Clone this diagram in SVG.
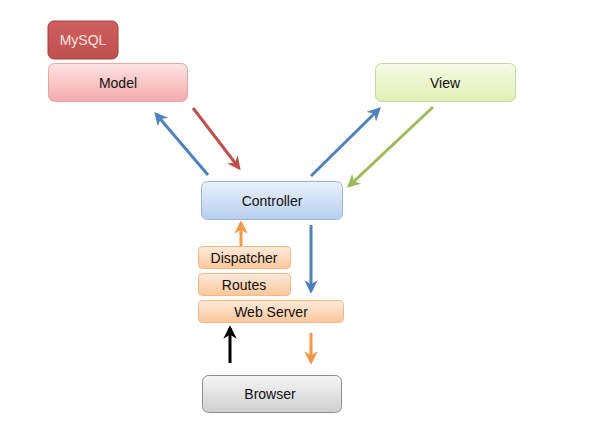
<svg xmlns="http://www.w3.org/2000/svg" width="594" height="435" viewBox="0 0 594 435">
<defs>
<linearGradient id="gPink" x1="0" y1="0" x2="0" y2="1"><stop offset="0" stop-color="#fde4e4"/><stop offset="1" stop-color="#f5aaaa"/></linearGradient>
<linearGradient id="gGreen" x1="0" y1="0" x2="0" y2="1"><stop offset="0" stop-color="#f7fbe6"/><stop offset="1" stop-color="#e0efb4"/></linearGradient>
<linearGradient id="gBlue" x1="0" y1="0" x2="0" y2="1"><stop offset="0" stop-color="#eaf1fb"/><stop offset="1" stop-color="#b8cff0"/></linearGradient>
<linearGradient id="gOrange" x1="0" y1="0" x2="0" y2="1"><stop offset="0" stop-color="#fdeadb"/><stop offset="1" stop-color="#fbc79a"/></linearGradient>
<linearGradient id="gGray" x1="0" y1="0" x2="0" y2="1"><stop offset="0" stop-color="#f6f6f6"/><stop offset="1" stop-color="#cfcfcf"/></linearGradient>
<linearGradient id="gRed" x1="0" y1="0" x2="0" y2="1"><stop offset="0" stop-color="#d0605d"/><stop offset="1" stop-color="#bf4f4c"/></linearGradient>
<marker id="aBlue" viewBox="0 0 10 10" refX="8" refY="5" markerWidth="4.5" markerHeight="4.5" orient="auto"><path d="M0,0 L10,5 L0,10 L3,5 Z" fill="#4f81bd"/></marker>
<marker id="aRed" viewBox="0 0 10 10" refX="8" refY="5" markerWidth="4.5" markerHeight="4.5" orient="auto"><path d="M0,0 L10,5 L0,10 L3,5 Z" fill="#c0504d"/></marker>
<marker id="aGreen" viewBox="0 0 10 10" refX="8" refY="5" markerWidth="4.5" markerHeight="4.5" orient="auto"><path d="M0,0 L10,5 L0,10 L3,5 Z" fill="#9bbb59"/></marker>
<marker id="aOrange" viewBox="0 0 10 10" refX="8" refY="5" markerWidth="4.5" markerHeight="4.5" orient="auto"><path d="M0,0 L10,5 L0,10 L3,5 Z" fill="#f79646"/></marker>
<marker id="aBlack" viewBox="0 0 10 10" refX="8" refY="5" markerWidth="4.5" markerHeight="4.5" orient="auto"><path d="M0,0 L10,5 L0,10 L3,5 Z" fill="#000000"/></marker>
</defs>
<style>
text{font-family:"Liberation Sans","DejaVu Sans",sans-serif;font-size:14px;text-anchor:middle;fill:#111}
.conn line{stroke-width:3;fill:none}
</style>
<rect x="0" y="0" width="594" height="435" fill="#ffffff"/>
<g id="mysql" class="node"><rect x="48" y="21" width="70" height="38" rx="6" fill="url(#gRed)" stroke="#a33f3c" stroke-width="1"/><text x="83" y="45" style="fill:#fbe3e3">MySQL</text></g>
<g id="model" class="node"><rect x="48.5" y="63.5" width="139" height="38" rx="6" fill="url(#gPink)" stroke="#e8a6a6"/><text x="118" y="88">Model</text></g>
<g id="view" class="node"><rect x="375.5" y="63.5" width="140" height="38" rx="6" fill="url(#gGreen)" stroke="#c6da9e"/><text x="445" y="88">View</text></g>
<g id="controller" class="node"><rect x="201.5" y="181.5" width="141" height="38" rx="6" fill="url(#gBlue)" stroke="#98b6dc"/><text x="272" y="206">Controller</text></g>
<g id="dispatcher" class="node"><rect x="198.5" y="246.5" width="92" height="22" rx="4" fill="url(#gOrange)" stroke="#f6b886"/><text x="244" y="262.5">Dispatcher</text></g>
<g id="routes" class="node"><rect x="198.5" y="273.5" width="92" height="22" rx="4" fill="url(#gOrange)" stroke="#f6b886"/><text x="244" y="289.5">Routes</text></g>
<g id="webserver" class="node"><rect x="198.5" y="300.5" width="145" height="22" rx="4" fill="url(#gOrange)" stroke="#f6b886"/><text x="271" y="316.5">Web Server</text></g>
<g id="browser" class="node"><rect x="202.5" y="375.5" width="139" height="37" rx="6" fill="url(#gGray)" stroke="#8e8e8e"/><text x="270" y="399">Browser</text></g>
<g id="connectors" class="conn">
<line x1="208" y1="175" x2="156" y2="114" stroke="#4f81bd" marker-end="url(#aBlue)"/>
<line x1="193" y1="108" x2="239" y2="168" stroke="#c0504d" marker-end="url(#aRed)"/>
<line x1="311" y1="176" x2="379" y2="109" stroke="#4f81bd" marker-end="url(#aBlue)"/>
<line x1="433" y1="107" x2="349" y2="186" stroke="#9bbb59" marker-end="url(#aGreen)"/>
<line x1="241" y1="246" x2="241" y2="223" stroke="#f79646" marker-end="url(#aOrange)"/>
<line x1="311" y1="225" x2="311" y2="291" stroke="#4f81bd" marker-end="url(#aBlue)"/>
<line x1="230" y1="363" x2="230" y2="328" stroke="#000000" marker-end="url(#aBlack)"/>
<line x1="311" y1="333" x2="311" y2="362" stroke="#f79646" marker-end="url(#aOrange)"/>
</g>
</svg>
